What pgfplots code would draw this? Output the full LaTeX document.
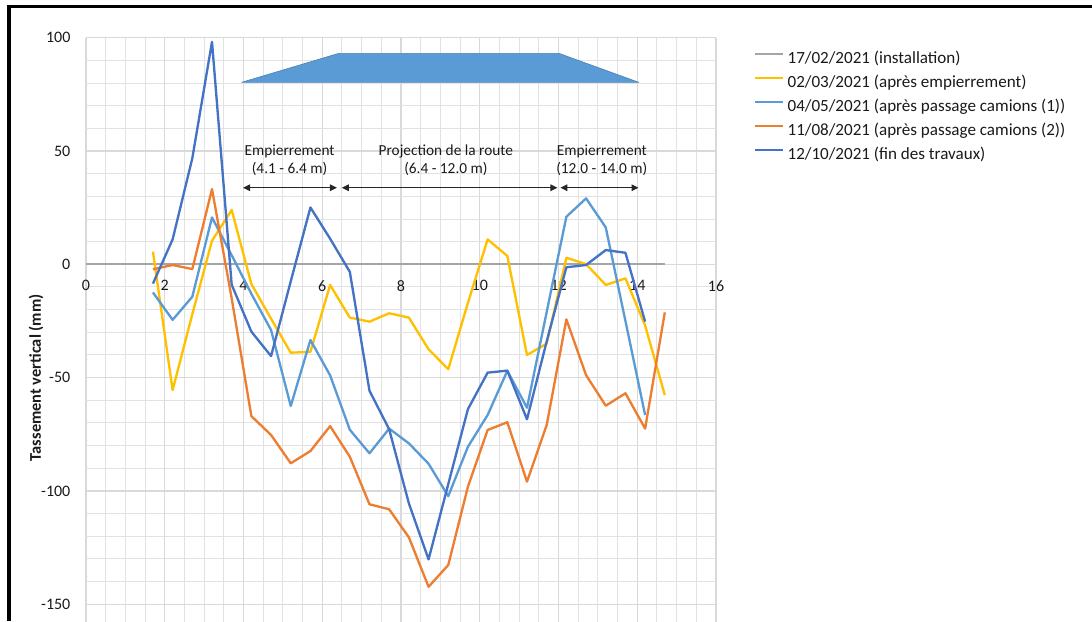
\documentclass[border=0pt]{standalone}
\usepackage{fontspec}
\setmainfont{Carlito}
\usepackage{pgfplots}
\usepackage{pgfplotstable}
\pgfplotsset{compat=1.18}
\usetikzlibrary{arrows.meta}

\definecolor{cInst}{HTML}{A5A5A5}
\definecolor{cEmp}{HTML}{FFC000}
\definecolor{cCamA}{HTML}{5B9BD5}
\definecolor{cCamB}{HTML}{ED7D31}
\definecolor{cFin}{HTML}{4472C4}
\definecolor{cRoad}{HTML}{5B9BD5}
\definecolor{cGrid}{HTML}{D9D9D9}
\definecolor{cText}{HTML}{1A1A1A}

% Vertical settlement (mm) along the profile (m)
\pgfplotstableread{
x     inst  emp    camA    camB    fin
0     0     nan    nan     nan     nan
1.7   0     5.6    -12.4   -2.2    -8.5
2.2   0     -55.5  -24.5   -0.3    11.0
2.7   0     -22.0  -14.3   -2.1    46.8
3.2   0     10.4   20.7    33.2    98.2
3.7   0     24.0   4.0     -15.0   -9.0
4.2   0     -8.7   -13.0   -67.0   -29.7
4.7   0     -24.0  -29.0   -75.3   -40.5
5.2   0     -39.0  -62.5   -87.8   -7.5
5.7   0     -38.6  -33.4   -82.4   25.1
6.2   0     -9.1   -49.0   -71.4   11.3
6.7   0     -23.5  -73.0   -84.9   -3.3
7.2   0     -25.3  -83.4   -105.9  -55.8
7.7   0     -21.6  -72.5   -108.1  -72.8
8.2   0     -23.5  -79.0   -120.5  -105.5
8.7   0     -37.5  -88.0   -142.3  -130.2
9.2   0     -46.3  -102.3  -132.7  -97.0
9.7   0     -17.0  -80.5   -98.1   -63.9
10.2  0     11.0   -66.5   -73.1   -47.8
10.7  0     3.7    -47.0   -69.7   -46.9
11.2  0     -40.0  -63.3   -95.9   -68.4
11.7  0     -35.0  -21.0   -70.9   -34.0
12.2  0     2.9    21.0    -24.3   -1.3
12.7  0     0.1    29.1    -48.9   -0.3
13.2  0     -9.1   16.3    -62.4   6.3
13.7  0     -6.2   -25.0   -56.9   5.1
14.2  0     -27.0  -66.5   -72.5   -25.3
14.7  0     -57.7  nan     -21.2   nan
}\settlement

\newcommand{\chartfont}{\fontsize{11.5pt}{13.5pt}\selectfont}
\newcommand{\tickfont}{\fontsize{12pt}{14pt}\selectfont}
\newcommand{\legfont}{\fontsize{12.8pt}{15pt}\selectfont}

\begin{document}
\begin{tikzpicture}[x=1pt,y=1pt]
\path[use as bounding box] (0,0) rectangle (819,465.75);
\clip (0,0) rectangle (819,465.75);
\begin{axis}[
  at={(64.5pt,-72.4pt)}, anchor=south west,
  scale only axis, width=472.5pt, height=509.85pt,
  xmin=0, xmax=16, ymin=-200, ymax=100,
  xtick={0,2,...,16}, ytick={-150,-100,...,100},
  minor xtick={0,0.5,...,16}, minor ytick={-200,-190,...,100},
  extra y ticks={-200}, extra y tick labels={},
  grid=both,
  major grid style={cGrid, line width=0.9pt},
  minor grid style={cGrid!75, line width=0.75pt},
  axis x line=middle, axis y line=left,
  axis line style={draw=none,-},
  hide obscured x ticks=false, hide obscured y ticks=false,
  tick style={draw=none},
  major tick length=0pt, minor tick length=0pt,
  /pgf/number format/assume math mode=true,
  ticklabel style={font=\tickfont, text=cText},
  xticklabel style={yshift=-8.5pt},
  yticklabel style={xshift=-8.2pt},
  ylabel={\bfseries Tassement vertical (mm)},
  ylabel style={at={(axis description cs:-0.0794,0.5)}, anchor=center,
    font=\fontsize{12.3pt}{14pt}\selectfont, text=cText},
  legend cell align=left,
  legend image code/.code={\draw[#1] (0pt,4pt) -- (21pt,4pt);},
  legend style={at={(1.0603,0.9862)}, anchor=north west, draw=none, fill=none,
    inner sep=0pt, row sep=0pt, font=\legfont, text=cText,
    nodes={inner sep=0pt, inner xsep=2.3pt, text height=12pt, text depth=6pt}},
  every axis plot/.append style={line join=round},
]
% road embankment sketch
\addplot[fill=cRoad, draw=cRoad!85!black, line width=0.5pt, forget plot]
  coordinates {(3.95,80.3) (6.42,93.1) (12.01,93.1) (14.04,80.3) (3.95,80.3)};

\addplot[cInst, line width=1.3pt] table[x=x,y=inst] {\settlement};
\addlegendentry{17/02/2021 (installation)}
\addplot[cEmp, line width=1.75pt] table[x=x,y=emp] {\settlement};
\addlegendentry{02/03/2021 (après empierrement)}
\addplot[cCamA, line width=1.75pt] table[x=x,y=camA] {\settlement};
\addlegendentry{04/05/2021 (après passage camions (1))}
\addplot[cCamB, line width=1.75pt] table[x=x,y=camB] {\settlement};
\addlegendentry{11/08/2021 (après passage camions (2))}
\addplot[cFin, line width=1.75pt] table[x=x,y=fin] {\settlement};
\addlegendentry{12/10/2021 (fin des travaux)}

% work zones
\draw[black!85, line width=0.75pt, {Triangle[length=5.2pt,width=5pt]}-{Triangle[length=5.2pt,width=5pt]}]
  (axis cs:3.99,33.8) -- (axis cs:6.37,33.8);
\draw[black!85, line width=0.75pt, {Triangle[length=5.2pt,width=5pt]}-{Triangle[length=5.2pt,width=5pt]}]
  (axis cs:6.50,33.8) -- (axis cs:11.97,33.8);
\draw[black!85, line width=0.75pt, {Triangle[length=5.2pt,width=5pt]}-{Triangle[length=5.2pt,width=5pt]}]
  (axis cs:12.05,33.8) -- (axis cs:14.03,33.8);
\node[font=\chartfont, text=cText, align=center] at (axis cs:5.17,46) {Empierrement\\(4.1 - 6.4 m)};
\node[font=\chartfont, text=cText, align=center] at (axis cs:9.14,46) {Projection de la route\\(6.4 - 12.0 m)};
\node[font=\chartfont, text=cText, align=center] at (axis cs:13.1,46) {Empierrement\\(12.0 - 14.0 m)};
\end{axis}
\draw[black, line width=2.5pt, line join=miter] (6.75,0) -- (6.75,460.7) -- (819,460.7);
\end{tikzpicture}
\end{document}
